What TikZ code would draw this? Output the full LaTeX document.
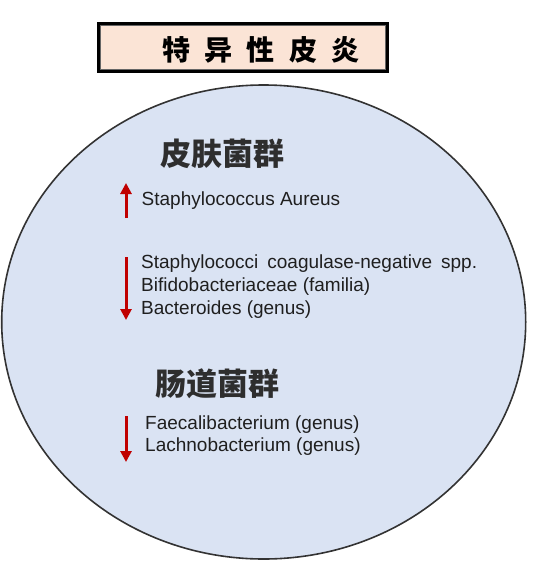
\documentclass[tikz,border=0pt]{standalone}
\usepackage{fontspec}
\setmainfont{Liberation Sans}
\newfontfamily\cjk{Noto Sans CJK SC}
\usetikzlibrary{arrows.meta}

\definecolor{discfill}{HTML}{DAE3F3}
\definecolor{titlefill}{HTML}{FBE4D6}
\definecolor{trendred}{HTML}{C00000}

\tikzset{
  taxon/.style={anchor=base west, inner sep=0pt, text=black!88, font=\fontsize{19}{23}\selectfont},
  grouphead/.style={anchor=center, inner sep=0pt, text=black!82, font=\cjk\bfseries\fontsize{31}{36}\selectfont},
  trend/.style={draw=trendred, line width=3pt, -{Triangle[length=11pt,width=11pt]}},
}

\begin{document}
\begin{tikzpicture}[x=1pt, y=-1pt]

  %% ==== 外框与底色 ====
  \path[use as bounding box] (0,0) rectangle (534,568);
  \draw[draw=black!80, line width=1.6pt, fill=discfill] (263.7,322) ellipse [x radius=262, y radius=237];

  %% ==== 标题 ====
  \node[draw, line width=2.4pt, fill=titlefill, minimum width=289, minimum height=48, inner sep=0pt] (titlebox) at (243,47.5) {};
  \draw[black!60, line width=0.7pt] ([shift={(3.5pt,-3.5pt)}]titlebox.north west) rectangle ([shift={(-3.5pt,3.5pt)}]titlebox.south east);
  \node[inner sep=0pt, font=\cjk\bfseries\fontsize{28}{30}\selectfont] (title) at (261,49.5)
    {特\hspace{14.5pt}异\hspace{14.5pt}性\hspace{14.5pt}皮\hspace{14.5pt}炎};

  %% ==== 皮肤菌群 ====
  \node[grouphead] (skin) at (222.5,154) {皮肤菌群};
  \node[taxon] (staphA) at (141.5,205) {Staphylococcus Aureus};
  \node[taxon] (staphCN) at (141,268) {Staphylococci\hspace{9pt}coagulase-negative\hspace{9pt}spp.};
  \node[taxon] (bifido) at (141,291) {Bifidobacteriaceae (familia)};
  \node[taxon] (bactero) at (141,314) {Bacteroides (genus)};

  \coordinate (upS) at (126,218);   \coordinate (upE) at (126,183);
  \coordinate (dnS) at (126,257);   \coordinate (dnE) at (126,320);
  \draw[trend] (upS) -- (upE);
  \draw[trend] (dnS) -- (dnE);

  %% ==== 肠道菌群 ====
  \node[grouphead] (gut) at (217.5,384) {肠道菌群};
  \node[taxon] (faecali) at (145,429) {Faecalibacterium (genus)};
  \node[taxon] (lachno) at (145,451) {Lachnobacterium (genus)};

  \coordinate (gutS) at (126,416);  \coordinate (gutE) at (126,462);
  \draw[trend] (gutS) -- (gutE);

\end{tikzpicture}
\end{document}
